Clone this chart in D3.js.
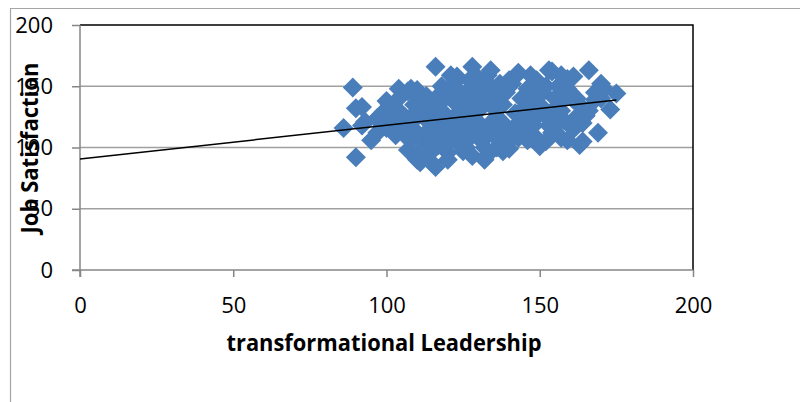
<!DOCTYPE html>
<html>
<head>
<meta charset="utf-8">
<script src="https://cdn.jsdelivr.net/npm/d3@7"></script>
<style>
  body { margin: 0; background: #fff; }
  text { font-family: "Open Sans", sans-serif; fill: #000; }
</style>
</head>
<body>
<div id="vizDiv"></div>
<script>
var width = 800;
var height = 402;

// scatter values
var leadership = [86, 89, 90, 90, 92, 93, 95, 97, 92, 99, 100, 101, 103, 104, 98, 102, 104, 97, 105, 100,
  108, 107, 111, 110, 107, 110, 111, 114, 106, 108, 110, 112, 113, 114, 106, 109, 112, 115, 113, 108,
  116, 115, 116, 117, 120, 120, 121, 123, 123, 124, 125, 116, 117, 118, 119, 120, 121, 122, 123, 124,
  118, 116, 120, 122, 124, 117, 121, 128, 129, 128, 132, 133, 133, 134, 126, 127, 128, 129, 130, 131,
  132, 133, 134, 126, 128, 130, 133, 134, 127, 131, 125, 136, 138, 137, 137, 140, 141, 143, 142, 143,
  144, 135, 136, 138, 139, 140, 141, 138, 144, 144, 140, 135, 143, 147, 148, 150, 150, 153, 154, 154,
  145, 146, 147, 148, 149, 150, 151, 152, 153, 154, 155, 146, 149, 152, 157, 159, 157, 161, 159, 161,
  163, 164, 164, 165, 156, 157, 158, 159, 161, 162, 163, 156, 160, 164, 166, 168, 169, 170, 173, 175,
  166, 168, 170, 171, 112, 115, 119, 125, 127, 130, 135, 137, 142, 145, 148, 151, 155, 158, 162, 110,
  104, 131, 139, 146, 126];
var satisfaction = [116, 149, 92, 132, 133, 121, 106, 124, 118, 129, 116, 135, 110, 148, 120, 125, 130, 112, 118, 138,
  148, 146, 143, 147, 98, 90, 88, 95, 110, 120, 130, 138, 105, 115, 125, 135, 100, 125, 142, 106,
  166, 87, 84, 102, 90, 96, 159, 158, 155, 102, 97, 110, 120, 130, 140, 148, 115, 125, 135, 145,
  150, 140, 105, 110, 120, 132, 143, 166, 159, 93, 90, 94, 159, 163, 105, 115, 125, 135, 145, 152,
  100, 110, 120, 140, 150, 130, 140, 150, 155, 118, 130, 100, 97, 152, 144, 99, 152, 161, 158, 113,
  122, 110, 125, 135, 145, 105, 115, 120, 130, 140, 155, 140, 108, 159, 152, 101, 104, 163, 162, 112,
  120, 130, 140, 110, 125, 135, 145, 150, 118, 128, 140, 148, 155, 105, 159, 106, 108, 158, 156, 139,
  102, 105, 128, 126, 120, 130, 140, 148, 115, 125, 135, 150, 145, 120, 163, 139, 112, 152, 131, 144,
  130, 145, 140, 148, 125, 132, 118, 112, 125, 108, 132, 116, 128, 110, 118, 128, 132, 122, 140, 112,
  140, 135, 108, 106, 100];

// linear trend line, two ends
var trendX = [0, 175];
var trendY = [90.6, 138.8];

var ticks = [0, 50, 100, 150, 200];

var margin = {left: 80, right: 107, top: 25, bottom: 132};

var svg = d3.select("#vizDiv")
  .append("svg")
  .attr("width", width)
  .attr("height", height)

var x = d3.scaleLinear().domain([0, 200]).range([margin.left, width - margin.right]);
var y = d3.scaleLinear().domain([0, 200]).range([height - margin.bottom, margin.top]);

// outer chart frame (only top and left edges show)
svg.append("path")
  .attr("d", "M10.5," + height + "V8.5H" + width)
  .attr("fill", "none")
  .attr("stroke", "#a6a6a6")
  .attr("stroke-width", 1.2)

// gridlines
svg.append("g")
  .selectAll("line")
  .data([50, 100, 150])
  .join("line")
  .attr("x1", x(0))
  .attr("x2", x(200))
  .attr("y1", d => y(d))
  .attr("y2", d => y(d))
  .attr("stroke", "#a0a0a0")
  .attr("stroke-width", 1.5)

// top and right border of plot area
svg.append("path")
  .attr("d", "M" + x(0) + "," + y(200) + "H" + x(200) + "V" + y(0))
  .attr("fill", "none")
  .attr("stroke", "#000")
  .attr("stroke-width", 1.5)

var yAxis = svg.append("g")
  .attr("transform", "translate(" + x(0) + ",0)")
  .call(d3.axisLeft(y).tickValues(ticks).tickSize(8).tickPadding(19))
yAxis.selectAll("text").style("font-size", "22px").style("font-family", "Open Sans")

var xAxis = svg.append("g")
  .attr("transform", "translate(0," + y(0) + ")")
  .call(d3.axisBottom(x).tickValues(ticks).tickSize(7).tickPadding(20))
xAxis.selectAll("text").style("font-size", "22px").style("font-family", "Open Sans")

svg.selectAll(".domain, .tick line")
  .attr("stroke", "#868686")
  .attr("stroke-width", 1.5)
yAxis.select(".domain").attr("d", "M0," + y(200) + "V" + (y(0) + 7))
xAxis.select(".domain").attr("d", "M" + (x(0) - 8) + ",0H" + x(200))

// points as diamonds
var pts = leadership.map((d, i) => [d, satisfaction[i]]);
svg.append("g")
  .selectAll("path")
  .data(pts)
  .join("path")
  .attr("d", d3.symbol().type(d3.symbolSquare).size(200))
  .attr("transform", d => "translate(" + x(d[0]) + "," + y(d[1]) + ") rotate(45)")
  .attr("fill", "#4a7ebb")

// trend line
svg.append("path")
  .attr("d", d3.line()(trendX.map((d, i) => [x(d), y(trendY[i])])))
  .attr("stroke", "#000")
  .attr("stroke-width", 1.5)
  .attr("fill", "none")

// axis titles
svg.append("text")
  .attr("x", 384)
  .attr("y", 351)
  .attr("text-anchor", "middle")
  .attr("textLength", 315)
  .attr("lengthAdjust", "spacingAndGlyphs")
  .style("font-size", "24px")
  .style("font-weight", "bold")
  .text("transformational Leadership")

svg.append("text")
  .attr("transform", "translate(38,148) rotate(-90)")
  .attr("text-anchor", "middle")
  .attr("textLength", 171)
  .attr("lengthAdjust", "spacingAndGlyphs")
  .style("font-size", "23px")
  .style("font-weight", "bold")
  .text("Job Satisfaction")
</script>
</body>
</html>
